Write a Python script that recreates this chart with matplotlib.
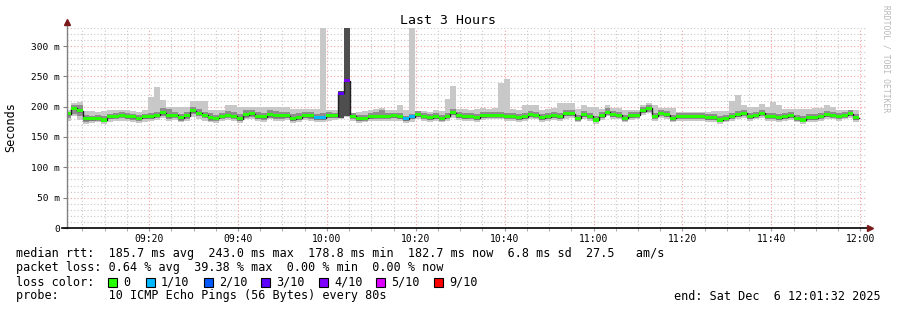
import numpy as np
import matplotlib
matplotlib.use('Agg')
import matplotlib.pyplot as plt
from matplotlib.patches import Rectangle

plt.rcParams['font.family'] = 'DejaVu Sans Mono'

# Time axis in minutes after 09:00, one step = 80 s
first_step = 1.15          # 09:01:09
step = 80 / 60
t_start, t_end = 1.533, 181.533   # 09:01:32 .. 12:01:32
tick_minutes = [20, 40, 60, 80, 100, 120, 140, 160, 180]
tick_labels = ['09:20', '09:40', '10:00', '10:20', '10:40', '11:00', '11:20', '11:40', '12:00']
y_ticks = [0, 50, 100, 150, 200, 250, 300]
y_tick_labels = ['0', '50 m', '100 m', '150 m', '200 m', '250 m', '300 m']

# median rtt per step (ms)
median = [188, 197, 193, 180, 180, 181, 178, 183, 184, 186, 183, 183, 181, 183, 183, 186, 190, 185, 186, 182, 185, 193, 189, 186, 182, 181, 184,
          186, 184, 180, 187, 188, 183, 183, 187, 185, 185, 185, 180, 182, 185, 185, 182, 182, 185, 185, 222, 243, 184, 180, 181, 183, 184, 184, 184,
          185, 183, 180, 183, 187, 184, 182, 183, 181, 184, 190, 185, 183, 184, 182, 185, 186, 186, 186, 184, 184, 182, 183, 187, 186, 182, 183,
          185, 183, 188, 188, 181, 187, 184, 178, 185, 191, 187, 186, 181, 185, 186, 193, 197, 184, 189, 187, 181, 184, 184, 184, 184, 184, 182,
          182, 178, 181, 184, 187, 189, 183, 186, 189, 184, 184, 182, 183, 185, 181, 178, 182, 182, 184, 187, 186, 184, 186, 188, 182]

# slowest / fastest ping per step (light smoke)
ping_max = [195, 206, 207, 193, 193, 192, 193, 194, 195, 195, 194, 193, 192, 195, 216, 232, 211, 200, 199, 199, 200, 209, 209, 210, 195, 194, 195,
            202, 202, 199, 200, 200, 200, 200, 200, 200, 199, 200, 196, 196, 196, 196, 196, 331, 194, 194, 226, 331, 190, 192, 193, 195, 196, 197, 194,
            195, 202, 195, 331, 193, 193, 192, 194, 193, 212, 234, 196, 196, 195, 196, 197, 196, 197, 239, 246, 196, 195, 202, 202, 202, 195, 196,
            197, 206, 206, 206, 196, 203, 199, 199, 196, 202, 197, 197, 195, 195, 195, 202, 206, 202, 197, 197, 197, 192, 192, 192, 192, 192, 192,
            193, 193, 193, 209, 220, 202, 199, 199, 204, 199, 207, 202, 196, 196, 196, 196, 196, 198, 198, 203, 200, 195, 195, 195, 195]
ping_min = [176, 184, 178, 172, 173, 174, 172, 175, 176, 177, 176, 174, 173, 175, 176, 178, 182, 177, 178, 174, 176, 183, 179, 177, 174, 173, 176,
            178, 177, 173, 179, 180, 176, 175, 179, 177, 177, 178, 173, 175, 178, 177, 174, 175, 177, 178, 180, 183, 177, 173, 174, 176, 177, 176, 177,
            177, 176, 173, 175, 180, 177, 175, 176, 174, 177, 182, 178, 176, 177, 175, 178, 179, 179, 179, 177, 177, 175, 176, 180, 179, 175, 176,
            178, 176, 180, 181, 174, 180, 177, 171, 178, 184, 180, 179, 174, 178, 179, 186, 189, 177, 182, 180, 174, 177, 177, 176, 177, 177, 175,
            175, 171, 174, 177, 180, 182, 176, 179, 182, 177, 177, 175, 176, 178, 174, 171, 175, 175, 177, 180, 179, 177, 179, 181, 175]

# inner pings (darker smoke)
inner_hi = [192, 203, 202, 186, 185, 186, 184, 188, 190, 191, 189, 188, 186, 188, 190, 192, 198, 196, 192, 188, 192, 199, 196, 192, 189, 187, 190,
            193, 192, 188, 194, 195, 191, 190, 194, 193, 192, 192, 188, 189, 192, 192, 188, 190, 191, 190, 224, 331, 189, 186, 187, 189, 191, 194, 190,
            190, 189, 185, 188, 193, 190, 188, 189, 187, 190, 196, 191, 189, 190, 188, 191, 192, 192, 192, 190, 190, 188, 189, 193, 192, 188, 189,
            191, 189, 194, 194, 187, 193, 190, 185, 191, 197, 193, 192, 187, 191, 192, 199, 203, 190, 195, 193, 187, 190, 190, 190, 190, 190, 188,
            188, 184, 187, 190, 193, 195, 189, 192, 195, 190, 190, 188, 189, 191, 187, 184, 188, 188, 190, 193, 192, 190, 192, 194, 188]
inner_lo = [181, 188, 184, 175, 176, 177, 175, 179, 180, 181, 179, 178, 176, 179, 179, 181, 184, 180, 181, 177, 180, 188, 184, 181, 177, 176, 179,
            182, 180, 176, 182, 183, 179, 178, 182, 180, 180, 181, 176, 178, 181, 180, 178, 178, 181, 181, 183, 185, 180, 176, 177, 179, 180, 179, 180,
            181, 179, 176, 179, 183, 180, 178, 179, 177, 180, 186, 181, 179, 180, 178, 181, 182, 182, 182, 180, 180, 178, 179, 183, 182, 178, 179,
            181, 179, 184, 184, 177, 183, 180, 174, 181, 187, 183, 182, 177, 181, 182, 189, 192, 180, 185, 183, 177, 180, 180, 180, 180, 180, 178,
            178, 174, 177, 180, 183, 185, 179, 182, 185, 180, 180, 178, 179, 181, 177, 174, 178, 178, 180, 183, 182, 180, 182, 184, 178]

# steps where most pings were slow (dark smoke)
dark_steps = [46, 47]
dark_lo = [182, 185]
dark_hi = [226, 331]

# steps with packet loss (lost pings out of 10)
loss_steps = [42, 43, 46, 47, 57, 58]
loss_vals = [1, 1, 3, 4, 1, 1]

loss_names = ['0', '1/10', '2/10', '3/10', '4/10', '5/10', '9/10']
loss_colors = ['#26ff00', '#00b8ff', '#0059ff', '#5e00ff', '#7e00ff', '#dd00ff', '#ff0000']
loss_lookup = {0: 0, 1: 1, 2: 2, 3: 3, 4: 4, 5: 5, 9: 6}

W, H = 897, 310
fig = plt.figure(figsize=(W / 100, H / 100), dpi=100)
fig.patch.set_facecolor('white')
ax = fig.add_axes([67 / W, 82 / H, 800 / W, 200.2 / H])
ax.set_xlim(t_start, t_end)
ax.set_ylim(0, 330)

n = len(median)
edges = first_step + np.arange(n + 1) * step

def ext(a):
    a = np.asarray(a, dtype=float)
    return np.append(a, a[-1])

# grid (under the smoke, as rrdtool does)
minor_c = '#c8c8c8'
major_c = '#f4a0a0'
dots = (0, (1, 2))
for t in np.arange(5, 181, 5):
    if t % 20:
        ax.axvline(t, color=minor_c, lw=0.8, ls=dots, zorder=0.5)
for v in np.arange(10, 331, 10):
    if v % 50:
        ax.axhline(v, color=minor_c, lw=0.8, ls=dots, zorder=0.5)
for t in tick_minutes:
    ax.axvline(t, color=major_c, lw=0.8, ls=dots, zorder=0.6)
for v in y_ticks[1:]:
    ax.axhline(v, color=major_c, lw=0.8, ls=dots, zorder=0.6)

# smoke
ax.fill_between(edges, ext(ping_min), ext(ping_max), step='post', color='#c8c8c8', lw=0, zorder=1)
ax.fill_between(edges, ext(inner_lo), ext(inner_hi), step='post', color='#8e8e8e', lw=0, zorder=1.1)
for k, lo, hi in zip(dark_steps, dark_lo, dark_hi):
    ax.fill_between([edges[k], edges[k + 1]], [lo, lo], [hi, hi], color='#4e4e4e', lw=0, zorder=1.2)

# median line and loss coloured bars
ax.step(edges, ext(median), where='post', color='#202020', lw=1, zorder=3)
colors = []
for i in range(n):
    c = 0
    if i in loss_steps:
        c = loss_lookup[loss_vals[loss_steps.index(i)]]
    colors.append(loss_colors[c])
ax.bar(edges[:-1], 5.0, width=step, bottom=np.asarray(median) - 2.5, align='edge',
       color=colors, lw=0, zorder=4)

# axes
for s in ax.spines.values():
    s.set_visible(False)
ax.plot([0, 0], [0, 1.03], transform=ax.transAxes, color='#808080', lw=1, clip_on=False, zorder=5)
ax.plot([-0.006, 1.004], [0, 0], transform=ax.transAxes, color='black', lw=1.2, clip_on=False, zorder=5)
ax.plot([0], [1.03], transform=ax.transAxes, marker='^', ms=4, color='#7a1a1a', clip_on=False, zorder=6)
ax.plot([1.004], [0], transform=ax.transAxes, marker='>', ms=4, color='#7a1a1a', clip_on=False, zorder=6)

ax.set_xticks(tick_minutes)
ax.set_xticklabels(tick_labels, fontsize=7)
ax.set_xticks(np.arange(5, 181, 5), minor=True)
ax.set_yticks(y_ticks)
ax.set_yticklabels(y_tick_labels, fontsize=6.8)
ax.tick_params(axis='x', which='both', length=2, color='#a0a0a0', pad=2)
ax.tick_params(axis='y', length=3, color='#808080', pad=2)

fig.text(11 / W, 1 - 127 / H, 'Seconds', rotation=90, ha='center', va='center', fontsize=8.5)
fig.text(448 / W, 1 - 20 / H, 'Last 3 Hours', ha='center', va='center', fontsize=9.5)
fig.text(886 / W, 1 - 5 / H, 'RRDTOOL / TOBI OETIKER', rotation=270, ha='center', va='top',
         fontsize=5.8, color='#b8b8b8')

# legend lines
fs = 8.5
fig.text(16 / W, 1 - 254 / H, 'median rtt:  185.7 ms avg  243.0 ms max  178.8 ms min  182.7 ms now  6.8 ms sd  27.5   am/s',
         ha='left', va='center', fontsize=fs)
fig.text(16 / W, 1 - 268 / H, 'packet loss: 0.64 % avg  39.38 % max  0.00 % min  0.00 % now',
         ha='left', va='center', fontsize=fs)
fig.text(16 / W, 1 - 282 / H, 'loss color:', ha='left', va='center', fontsize=fs)
sq_x = [108, 146, 204, 261, 319, 376, 434]
for x0, name, col in zip(sq_x, loss_names, loss_colors):
    fig.add_artist(Rectangle((x0 / W, (H - 286.5) / H), 9 / W, 9 / H, transform=fig.transFigure,
                             facecolor=col, edgecolor='black', lw=0.8))
    fig.text((x0 + 15) / W, 1 - 282 / H, name, ha='left', va='center', fontsize=fs)
fig.text(16 / W, 1 - 296 / H, 'probe:       10 ICMP Echo Pings (56 Bytes) every 80s',
         ha='left', va='center', fontsize=fs)
fig.text(881 / W, 1 - 296 / H, 'end: Sat Dec  6 12:01:32 2025', ha='right', va='center', fontsize=fs)

fig.savefig('out.png', dpi=100, facecolor='white')
